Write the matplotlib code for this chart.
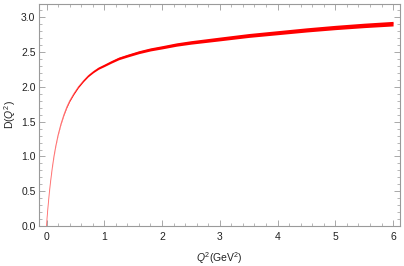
import matplotlib
matplotlib.use("Agg")
import matplotlib.pyplot as plt
from matplotlib.ticker import MultipleLocator

# valeurs
q2 = [0.0, 0.01, 0.023, 0.035, 0.05, 0.07, 0.1, 0.13, 0.16, 0.2, 0.25, 0.3, 0.35, 0.4,
      0.47, 0.55, 0.64, 0.72, 0.81, 0.9, 1.0, 1.12, 1.25, 1.4, 1.6, 1.8, 2.0, 2.25,
      2.5, 2.75, 3.0, 3.5, 4.0, 4.5, 5.0, 5.5, 6.0]
d_q2 = [0.0, 0.12, 0.25, 0.36, 0.49, 0.64, 0.84, 1.01, 1.15, 1.31, 1.47, 1.60, 1.71, 1.80,
        1.90, 2.00, 2.09, 2.16, 2.22, 2.27, 2.31, 2.36, 2.41, 2.45, 2.50, 2.54, 2.57, 2.61,
        2.64, 2.665, 2.69, 2.74, 2.78, 2.82, 2.855, 2.885, 2.91]
# demi-largeur de la bande d'incertitude
d_err = [0.001, 0.001, 0.002, 0.002, 0.003, 0.003, 0.004, 0.005, 0.005, 0.006, 0.007, 0.008, 0.009, 0.010,
         0.011, 0.012, 0.013, 0.014, 0.015, 0.016, 0.017, 0.018, 0.019, 0.020, 0.021, 0.022, 0.023, 0.024,
         0.025, 0.026, 0.027, 0.028, 0.029, 0.030, 0.031, 0.032, 0.033]

plt.rcParams['font.family'] = ['Liberation Sans', 'DejaVu Sans']
plt.rcParams['mathtext.fontset'] = 'custom'
plt.rcParams['mathtext.it'] = 'Liberation Sans:italic'
plt.rcParams['mathtext.rm'] = 'Liberation Sans'

fig = plt.figure(figsize=(4.04, 2.66), dpi=100)
ax = fig.add_axes([39 / 404, 40 / 266, 361 / 404, 222.5 / 266])

lo = [v - e for v, e in zip(d_q2, d_err)]
hi = [v + e for v, e in zip(d_q2, d_err)]
ax.fill_between(q2, lo, hi, color="#ff0000", lw=0)
ax.plot(q2, d_q2, color="#ff0000", lw=0.6, alpha=0.6)

ax.set_xlim(-0.13, 6.12)
ax.set_ylim(0, 3.2)

ax.xaxis.set_major_locator(MultipleLocator(1))
ax.xaxis.set_minor_locator(MultipleLocator(0.2))
ax.yaxis.set_major_locator(MultipleLocator(0.5))
ax.yaxis.set_minor_locator(MultipleLocator(0.1))
ax.yaxis.set_major_formatter(matplotlib.ticker.FormatStrFormatter("%.1f"))

frame = "#9a9a9a"
for s in ax.spines.values():
    s.set_color(frame)
    s.set_linewidth(0.8)
ax.tick_params(which="both", direction="in", top=True, right=True, color=frame,
               labelsize=7.5, labelcolor="#222222")
ax.tick_params(which="major", length=4, width=0.6)
ax.tick_params(which="minor", length=2, width=0.5)
ax.tick_params(axis="x", pad=4)
ax.tick_params(axis="y", pad=2.5)

ax.set_xlabel(r"$Q^2$(GeV$^2$)", fontsize=7.5, color="#222222", labelpad=6)
ax.set_ylabel(r"D($Q^2$)", fontsize=7.5, color="#222222", labelpad=2)

fig.savefig("out.png", dpi=100)
